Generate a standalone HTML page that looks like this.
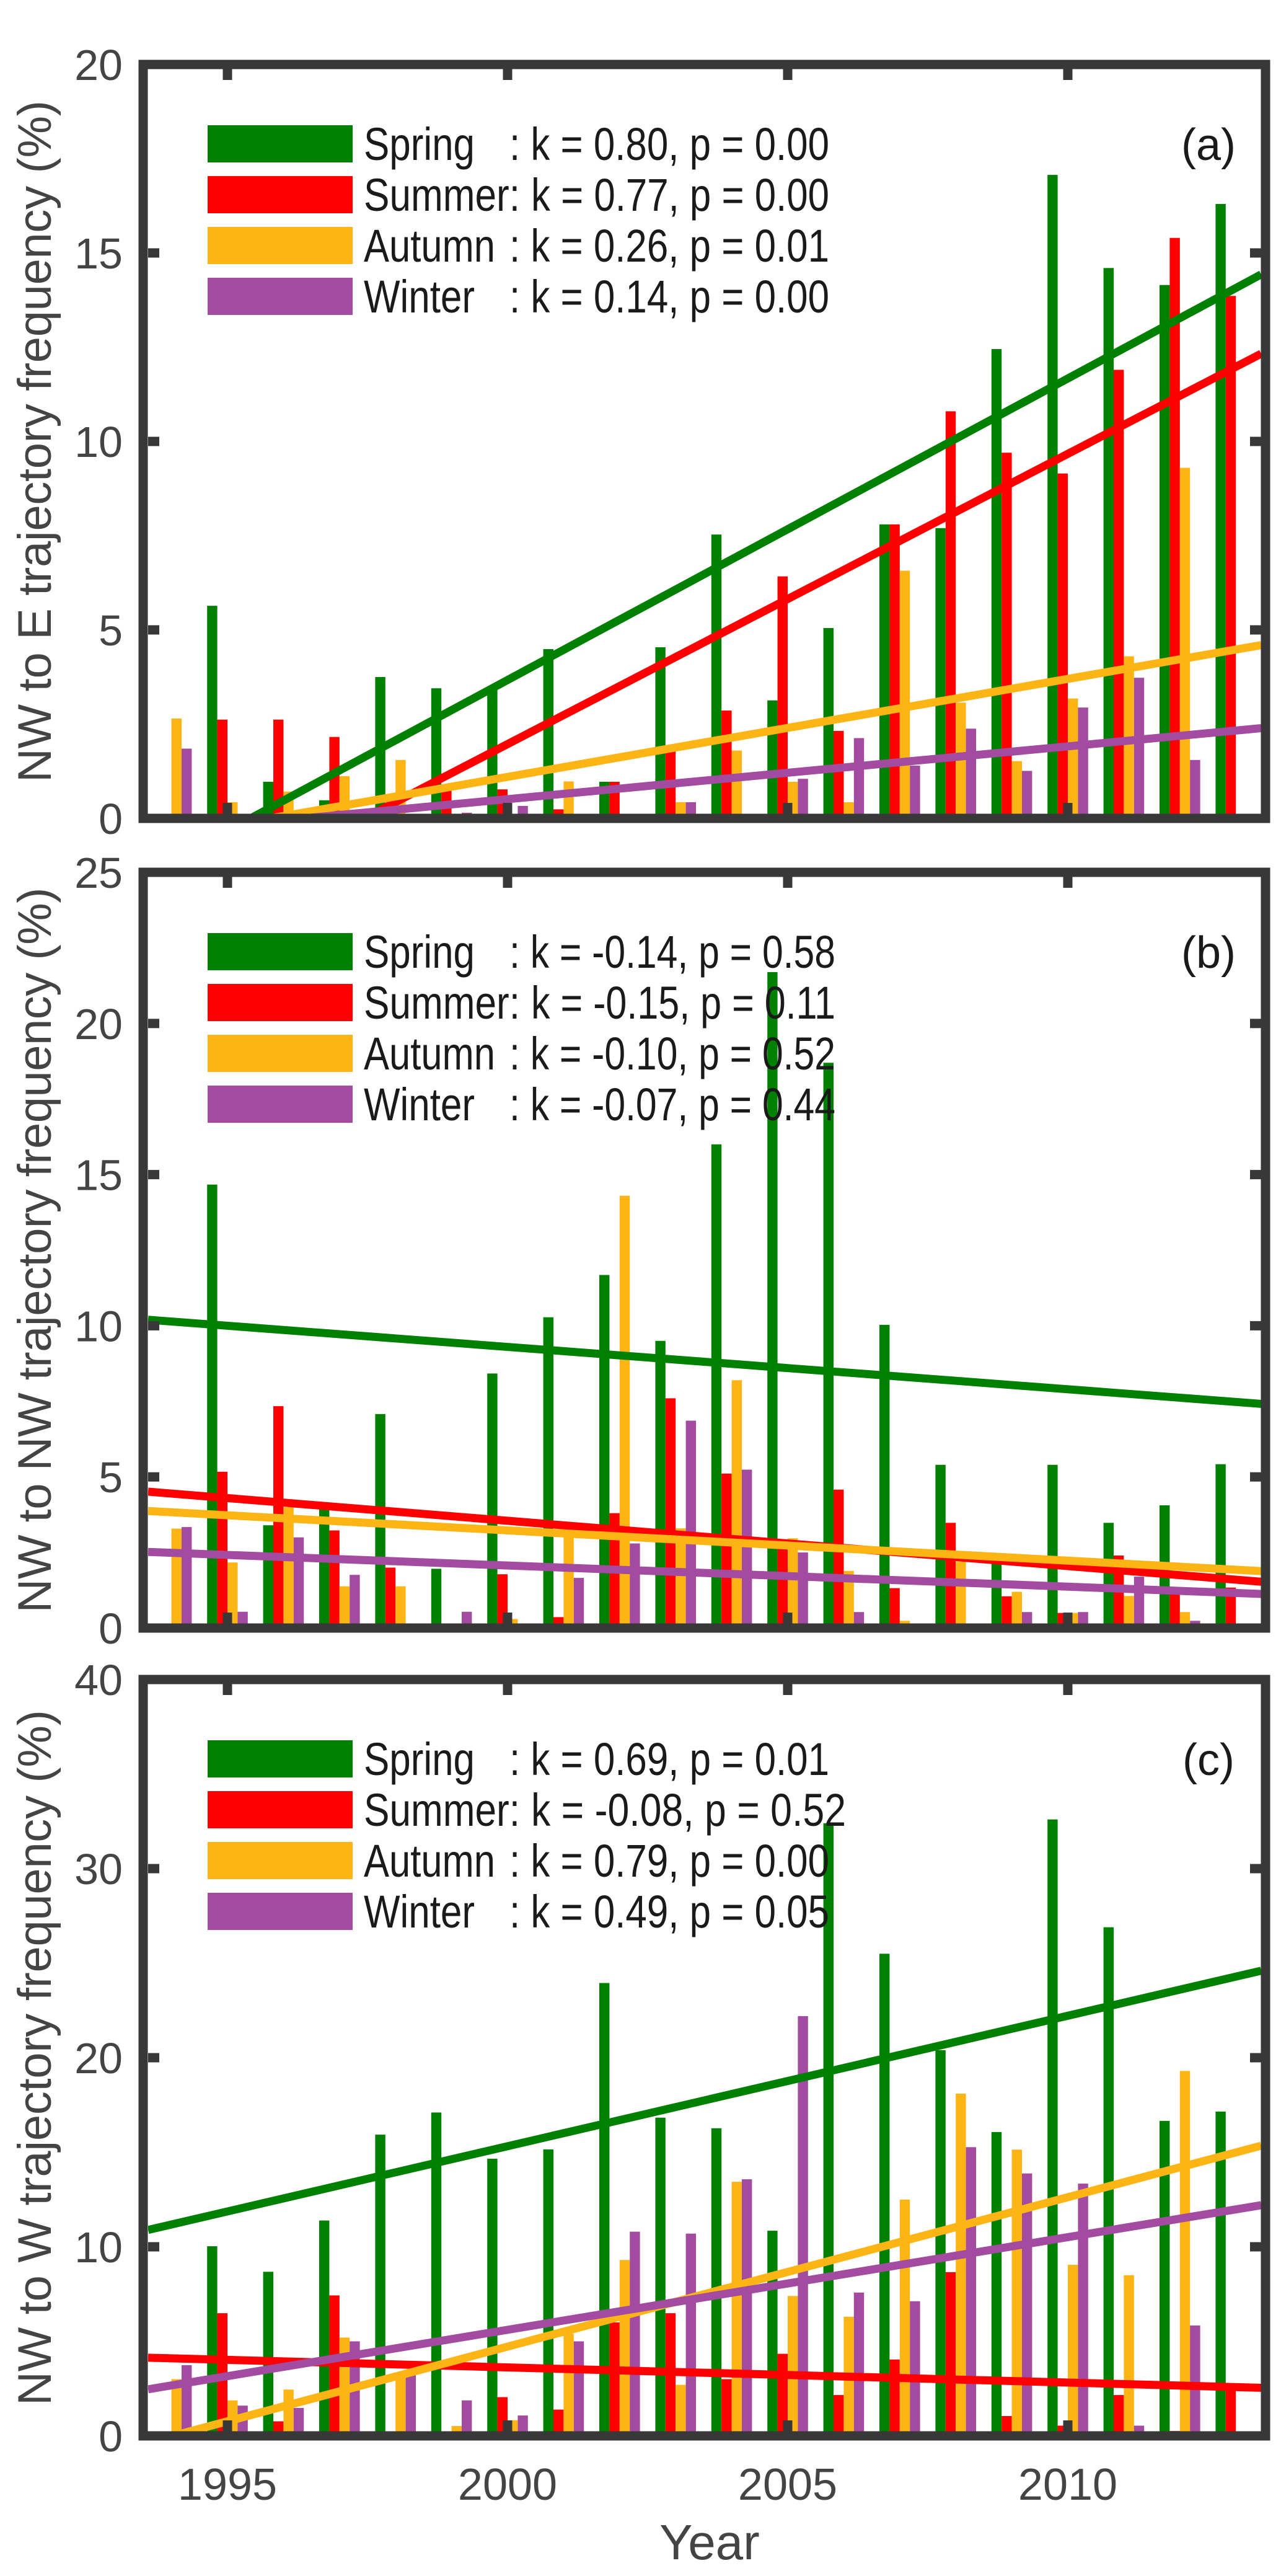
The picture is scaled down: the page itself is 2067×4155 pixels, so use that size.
<!DOCTYPE html>
<html><head><meta charset="utf-8"><title>NW trajectory frequency</title>
<style>
html,body{margin:0;padding:0;background:#fff;}
svg{display:block;}
text{font-family:"Liberation Sans",Arial,sans-serif;}
</style></head>
<body>
<svg id="chart" xmlns="http://www.w3.org/2000/svg" width="2067" height="4155" viewBox="0 0 2067 4155"></svg>
<script>
// ---------- data ----------
const years = [1994,1995,1996,1997,1998,1999,2000,2001,2002,2003,2004,2005,2006,2007,2008,2009,2010,2011,2012,2013];
const seasons = ["Spring","Summer","Autumn","Winter"];

const aSpring = [0,5.64,0.97,0.48,3.75,3.45,3.45,4.49,0.97,4.54,7.53,3.13,5.05,7.8,7.7,12.45,17.07,14.6,14.15,16.3];
const aSummer = [0,2.62,2.62,2.16,0,0.9,0.77,0.24,0.97,1.8,2.86,6.42,2.32,7.8,10.8,9.7,9.15,11.9,15.4,13.86];
const aAutumn = [2.65,0.43,0.71,1.12,1.55,0,0,0.98,0,0.43,1.8,0.97,0.43,6.57,3.07,1.52,3.18,4.3,9.3,0];
const aWinter = [1.85,0,0,0,0,0.15,0.33,0,0,0.43,0,1.05,2.13,1.4,2.38,1.26,2.94,3.73,1.55,0];

const bSpring = [0,14.67,3.4,3.97,7.08,1.96,8.42,10.28,11.68,9.5,16.0,21.7,18.7,10.03,5.4,2.26,5.4,3.48,4.06,5.42];
const bSummer = [0,5.17,7.34,3.23,2.0,0,1.78,0.36,3.8,7.6,5.11,2.9,4.58,1.32,3.48,1.05,0.5,2.4,1.3,1.34];
const bAutumn = [3.29,2.17,4.0,1.38,1.38,0,0.3,3.5,14.3,3.3,8.2,2.97,1.89,0.24,2.2,1.2,0.5,1.06,0.53,0];
const bWinter = [3.34,0.54,3.0,1.76,0,0.54,0,1.66,2.8,6.86,5.24,2.5,0.53,0,0,0.53,0.53,1.7,0.24,0];

const cSpring = [0,10.03,8.68,11.39,15.93,17.1,14.66,15.15,23.95,16.83,16.27,10.85,32.4,25.5,20.4,16.07,32.6,26.9,16.66,17.15];
const cSummer = [0,6.49,0.77,7.43,0,0.2,2.05,1.39,6.0,6.49,3.0,4.34,2.16,4.04,8.66,1.05,0.54,2.16,0.26,2.5];
const cAutumn = [3.0,1.88,2.45,5.2,3.3,0.52,0.83,5.4,9.3,2.7,13.44,7.4,6.3,12.5,18.1,15.14,9.05,8.5,19.3,0];
const cWinter = [3.74,1.6,1.48,5.0,3.3,1.88,1.08,5.0,10.8,10.7,13.57,22.2,7.58,7.12,15.27,13.88,13.34,0.54,5.84,0];

// trend slopes (per year) and fitted value at the reference year 2004
const aSlopes = [0.80,0.77,0.26,0.14];
const aAt2004 = [6.87,5.05,2.14,1.07];
const bSlopes = [-0.14,-0.15,-0.10,-0.07];
const bAt2004 = [8.74,2.95,2.83,1.79];
const cSlopes = [0.69,-0.08,0.79,0.49];
const cAt2004 = [18.08,3.3,7.88,7.57];

const aLegendStats = ["k = 0.80, p = 0.00","k = 0.77, p = 0.00","k = 0.26, p = 0.01","k = 0.14, p = 0.00"];
const bLegendStats = ["k = -0.14, p = 0.58","k = -0.15, p = 0.11","k = -0.10, p = 0.52","k = -0.07, p = 0.44"];
const cLegendStats = ["k = 0.69, p = 0.01","k = -0.08, p = 0.52","k = 0.79, p = 0.00","k = 0.49, p = 0.05"];

const aYTicks = [0,5,10,15,20];
const bYTicks = [0,5,10,15,20,25];
const cYTicks = [0,10,20,30,40];
const xTicks = [1995,2000,2005,2010];

// ---------- layout ----------
const COLORS = ["#008000","#ff0000","#fdb515","#a24ba0"];
const FRAME = "#383838";
const X_LEFT = 231, X_RIGHT = 2042;       // frame center lines
const IN_LEFT = 239, IN_RIGHT = 2035;     // inner edges
const X0 = 367, PER_YEAR = 90.4;
function xScale(yr){ return X0 + (yr - 1995) * PER_YEAR; }
function xToYear(x){ return 1995 + (x - X0) / PER_YEAR; }
const BAR_W = 16.4;
const BAR_OFF = [-24.6,-8.2,8.2,24.6];

const svg = document.getElementById('chart');
const NS = "http://www.w3.org/2000/svg";
function mk(tag, attrs, parent){
  const e = document.createElementNS(NS, tag);
  for (const k in attrs) e.setAttribute(k, attrs[k]);
  (parent || svg).appendChild(e);
  return e;
}

const panels = [
  {id:"a", top:104, bottom:1320, max:20, series:[aSpring,aSummer,aAutumn,aWinter], slopes:aSlopes, at:aAt2004, stats:aLegendStats, ticks:aYTicks, title:"NW to E trajectory frequency (%)", titleLen:1100},
  {id:"b", top:1407, bottom:2626, max:25, series:[bSpring,bSummer,bAutumn,bWinter], slopes:bSlopes, at:bAt2004, stats:bLegendStats, ticks:bYTicks, title:"NW to NW trajectory frequency (%)", titleLen:1170},
  {id:"c", top:2709, bottom:3929, max:40, series:[cSpring,cSummer,cAutumn,cWinter], slopes:cSlopes, at:cAt2004, stats:cLegendStats, ticks:cYTicks, title:"NW to W trajectory frequency (%)", titleLen:1122}
];

const defs = mk('defs', {});

panels.forEach(function(p){
  const yScale = function(v){ return p.bottom - (v / p.max) * (p.bottom - p.top); };
  const g = mk('g', {});
  
  

  const cp = mk('clipPath', {id:'clip-' + p.id}, defs);
  mk('rect', {x:IN_LEFT, y:p.top + 7, width:IN_RIGHT - IN_LEFT, height:p.bottom - p.top - 14}, cp);

  // bars
  const barsG = mk('g', {'clip-path':'url(#clip-' + p.id + ')'}, g);
  
  
  p.series.forEach(function(vals, si){
    vals.forEach(function(v, i){
      if (v <= 0) return;
      const cx = xScale(years[i]) + BAR_OFF[si];
      const r = mk('rect', {x:(cx - BAR_W/2).toFixed(1), y:yScale(v).toFixed(1), width:BAR_W, height:(yScale(0) - yScale(v)).toFixed(1), fill:COLORS[si]}, barsG);
      
      
    });
  });

  // trend lines
  const linesG = mk('g', {'clip-path':'url(#clip-' + p.id + ')'}, g);
  p.slopes.forEach(function(k, si){
    const y1v = p.at[si] + k * (xToYear(IN_LEFT) - 2004);
    const y2v = p.at[si] + k * (xToYear(IN_RIGHT) - 2004);
    const ln = mk('line', {x1:IN_LEFT, y1:yScale(y1v).toFixed(1), x2:IN_RIGHT, y2:yScale(y2v).toFixed(1), stroke:COLORS[si], 'stroke-width':13}, linesG);
    
    
  });

  // frame
  const fr = mk('rect', {x:X_LEFT, y:p.top, width:X_RIGHT - X_LEFT, height:p.bottom - p.top, fill:'none', stroke:FRAME, 'stroke-width':15}, g);
  
  

  // y ticks + labels
  p.ticks.forEach(function(t){
    const y = yScale(t);
    if (t > 0 && t < p.max){
      mk('rect', {x:IN_LEFT, y:y - 7.5, width:18, height:15, fill:FRAME}, g);
      mk('rect', {x:IN_RIGHT - 18, y:y - 7.5, width:18, height:15, fill:FRAME}, g);
    }
    const tx = mk('text', {x:198, y:y + 25, 'text-anchor':'end', 'font-size':70, fill:'#444'}, g);
    tx.textContent = String(t);
    
    
  });
  // x ticks
  xTicks.forEach(function(yr){
    const x = xScale(yr);
    mk('rect', {x:x - 7.5, y:p.top + 7, width:15, height:18, fill:FRAME}, g);
    mk('rect', {x:x - 7.5, y:p.bottom - 25, width:15, height:18, fill:FRAME}, g);
  });

  // y axis title
  const cy = (p.top + p.bottom) / 2;
  const yt = mk('text', {x:0, y:0, transform:'translate(82,' + cy + ') rotate(-90)', 'text-anchor':'middle', 'font-size':76, fill:'#444', textLength:p.titleLen, lengthAdjust:'spacing'}, g);
  yt.textContent = p.title;
  
  

  // legend
  const lg = mk('g', {}, g);
  
  
  seasons.forEach(function(s, si){
    const top = p.top + 98 + si * 82;
    const c = top + 30;
    const sw = mk('rect', {x:335, y:top, width:234, height:60, fill:COLORS[si]}, lg);
    
    
    const nameEnd = {Spring:766, Summer:839, Autumn:799, Winter:766}[s];
    const nm = mk('text', {x:587, y:c + 26, 'font-size':74, fill:'#1a1a1a', textLength:nameEnd - 587, lengthAdjust:'spacingAndGlyphs'}, lg);
    nm.textContent = (s === "Summer") ? "Summer:" : s;
    
    
    const restStart = (s === "Summer") ? 857 : 822;
    const restTxt = (s === "Summer") ? p.stats[si] : ": " + p.stats[si];
    const neg = p.stats[si].indexOf('-') >= 0;
    let restEnd = 1338;
    if (p.id === "b") restEnd = 1348;
    if (neg && p.id === "c") restEnd = 1365;
    const rs = mk('text', {x:restStart, y:c + 26, 'font-size':74, fill:'#1a1a1a', textLength:restEnd - restStart, lengthAdjust:'spacingAndGlyphs'}, lg);
    rs.textContent = restTxt;
    
    
  });
  const pl = mk('text', {x:1950, y:p.top + 128 + 26, 'text-anchor':'middle', 'font-size':72, fill:'#1a1a1a'}, g);
  pl.textContent = "(" + p.id + ")";
  
  
});

// x tick labels and x axis title (bottom panel only)
xTicks.forEach(function(yr){
  const t = mk('text', {x:xScale(yr), y:4032, 'text-anchor':'middle', 'font-size':72, fill:'#444'});
  t.textContent = String(yr);
  
  
});
const xt = mk('text', {x:1145, y:4128, 'text-anchor':'middle', 'font-size':80, fill:'#444'});
xt.textContent = "Year";


</script>
</body></html>
